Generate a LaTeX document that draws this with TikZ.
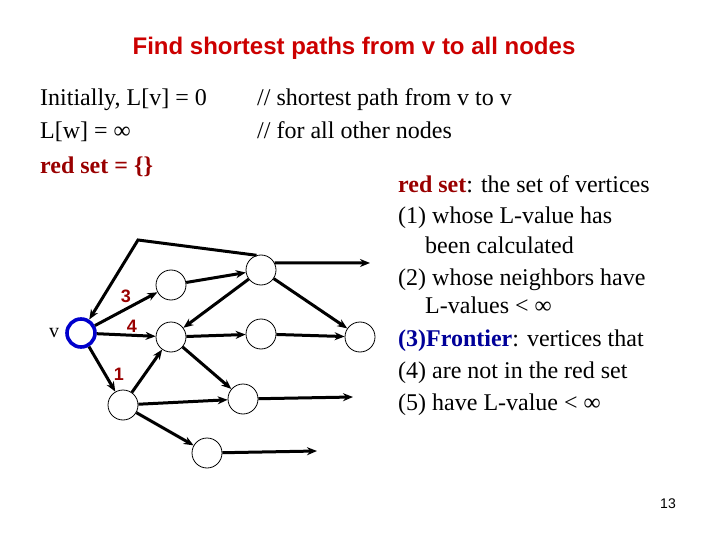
\documentclass[tikz,border=0pt]{standalone}
\usepackage{fontspec}
\setmainfont{Liberation Serif}
\setsansfont{Liberation Sans}
\usetikzlibrary{arrows.meta}
\definecolor{titlered}{RGB}{204,0,0}
\definecolor{darkred}{RGB}{153,0,0}
\definecolor{frontblue}{RGB}{0,0,153}
\definecolor{vblue}{RGB}{0,0,204}
\tikzset{
  vert/.style={circle,draw=black,line width=0.8pt,minimum size=30pt,inner sep=0pt},
  start/.style={circle,draw=vblue,line width=3.6pt,minimum size=28pt,inner sep=0pt},
  edge/.style={line width=3pt,-{Stealth[length=10pt,width=8pt]}},
  wlabel/.style={font=\sffamily\bfseries\fontsize{18}{18}\selectfont,text=darkred},
  body/.style={font=\fontsize{24}{24}\selectfont,anchor=base west,inner sep=0pt}
}
\begin{document}
\begin{tikzpicture}[x=1pt,y=-1pt]
\useasboundingbox (0,0) rectangle (720,540);
% title
\node[font=\sffamily\bfseries\fontsize{24}{24}\selectfont,text=titlered] (title) at (354,48) {Find shortest paths from v to all nodes};
% left text
\node[body] (t1) at (40,106) {Initially, L[v] = 0};
\node[body] (t2) at (40,139) {L[w] = ∞};
\node[body,text=darkred,font=\bfseries\fontsize{24}{24}\selectfont] (t3) at (40,174) {red set = \{\}};
\node[body] (c1) at (257,106) {// shortest path from v to v};
\node[body] (c2) at (257,139) {// for all other nodes};
% right text
\node[body] (r1) at (398,193) {\textcolor{darkred}{\textbf{red set}}: the set of vertices};
\node[body] (r2) at (398,224) {(1) whose L-value has};
\node[body] (r3) at (425,253) {been calculated};
\node[body] (r4) at (398,285) {(2) whose neighbors have};
\node[body] (r5) at (425,313) {L-values < ∞};
\node[body] (r6) at (398,346) {\textcolor{frontblue}{\textbf{(3)Frontier}}: vertices that};
\node[body] (r7) at (398,378) {(4) are not in the red set};
\node[body] (r8) at (398,410) {(5) have L-value < ∞};
% page number
\node[font=\sffamily\fontsize{14}{14}\selectfont] (pg) at (668,504) {13};
% graph
\node[start] (v) at (81,333) {};
\node[font=\fontsize{20}{20}\selectfont] (vl) at (54,333) {v};
\node[vert] (A) at (171,285) {};
\node[vert] (B) at (171,337) {};
\node[vert] (C) at (123,405) {};
\node[vert] (D) at (207,453) {};
\node[vert] (E) at (261,270) {};
\node[vert] (F) at (261,334) {};
\node[vert] (G) at (360,337) {};
\node[vert] (H) at (243,399) {};
\coordinate (corner) at (138,240);
\coordinate (e1) at (370,263);
\coordinate (h1) at (353,397);
\coordinate (d1) at (317,451);
\draw[edge] (E.107) -- (corner) -- (v);
\draw[edge] (v) -- (A);
\draw[edge] (v) -- (B);
\draw[edge] (v) -- (C.120);
\draw[edge] (A) -- (E);
\draw[edge] (E) -- (B);
\draw[edge] (E.28) -- (e1);
\draw[edge] (E) -- (G);
\draw[edge] (B) -- (F);
\draw[edge] (F) -- (G);
\draw[edge] (B) -- (H);
\draw[edge] (C) -- (B);
\draw[edge] (C) -- (H);
\draw[edge] (C) -- (D);
\draw[edge] (H) -- (h1);
\draw[edge] (D) -- (d1);
\node[wlabel] (l3) at (126,296) {3};
\node[wlabel] (l4) at (132,326) {4};
\node[wlabel] (l1) at (119,374) {1};
\end{tikzpicture}
\end{document}
